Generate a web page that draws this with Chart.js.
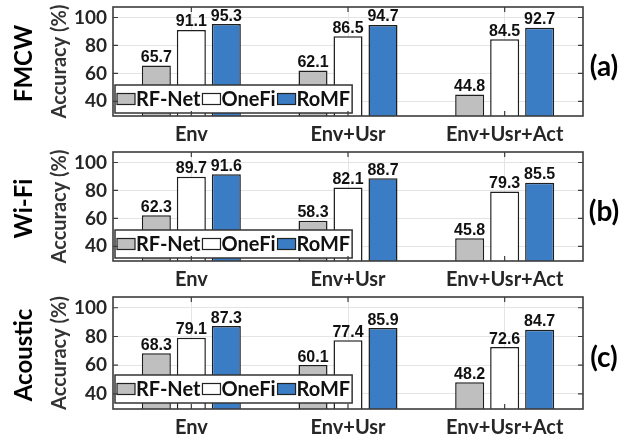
<!DOCTYPE html>
<html>
<head>
<meta charset="utf-8">
<script src="https://cdn.jsdelivr.net/npm/chart.js@4.4.0/dist/chart.umd.min.js"></script>
<style>
html, body { margin: 0; padding: 0; background: #fff; }
canvas { display: block; }
</style>
</head>
<body>
<canvas id="fmcwChart" width="636" height="145"></canvas>
<canvas id="wifiChart" width="636" height="145"></canvas>
<canvas id="acousticChart" width="636" height="148"></canvas>
<script>
// categories and methods
var categories = ['Env', 'Env+Usr', 'Env+Usr+Act'];
var methods = ['RF-Net', 'OneFi', 'RoMF'];
var yTicks = [40, 60, 80, 100];

// accuracy (%) per method, one array per sensing modality
var fmcw_rfnet = [65.7, 62.1, 44.8];
var fmcw_onefi = [91.1, 86.5, 84.5];
var fmcw_romf = [95.3, 94.7, 92.7];

var wifi_rfnet = [62.3, 58.3, 45.8];
var wifi_onefi = [89.7, 82.1, 79.3];
var wifi_romf = [91.6, 88.7, 85.5];

var acoustic_rfnet = [68.3, 60.1, 48.2];
var acoustic_onefi = [79.1, 77.4, 72.6];
var acoustic_romf = [87.3, 85.9, 84.7];

var colors = ['#bfbfbf', '#ffffff', '#3a7dc5'];

var LABEL_FONT = 'Lato';

// draws legend box, value labels, frame with inward ticks and side titles
var panelDeco = {
	id: 'panelDeco',
	afterDatasetsDraw: function(chart, args, opts) {
		var ctx = chart.ctx;
		var area = chart.chartArea;
		var xs = chart.scales.x;
		var ys = chart.scales.y;
		ctx.save();

		// legend inside the plot, bottom left
		var ds = chart.data.datasets;
		ctx.font = 'bold 20px ' + LABEL_FONT;
		var lx = area.left + 2, ly = area.top + 78, lh = 28;
		var sw = 18, sh = 11;
		var widths = ds.map(function(d) { return ctx.measureText(d.label).width; });
		var total = 2;
		for (var i = 0; i < ds.length; i++) total += sw + 1 + widths[i] + 2;
		ctx.fillStyle = '#fff';
		ctx.fillRect(lx, ly, total, lh);
		ctx.strokeStyle = '#333';
		ctx.lineWidth = 1.5;
		ctx.strokeRect(lx, ly, total, lh);
		var cx = lx + 2;
		var cy = ly + lh / 2;
		ctx.textBaseline = 'middle';
		ctx.textAlign = 'left';
		for (var i = 0; i < ds.length; i++) {
			ctx.fillStyle = ds[i].backgroundColor;
			ctx.fillRect(cx, cy - sh / 2, sw, sh);
			ctx.strokeStyle = '#222';
			ctx.lineWidth = 1.2;
			ctx.strokeRect(cx, cy - sh / 2, sw, sh);
			cx += sw + 1;
			ctx.fillStyle = '#111';
			ctx.fillText(ds[i].label, cx, cy + 1);
			cx += widths[i] + 2;
		}

		// value labels above the bars
		ctx.font = 'bold 16px "Liberation Sans"';
		ctx.textAlign = 'center';
		ctx.textBaseline = 'alphabetic';
		ctx.fillStyle = '#111';
		for (var i = 0; i < ds.length; i++) {
			var meta = chart.getDatasetMeta(i);
			meta.data.forEach(function(el, j) {
				ctx.fillText(ds[i].data[j].toFixed(1), el.x, el.y - 3.5);
			});
		}

		// frame
		ctx.strokeStyle = '#3c3c3c';
		ctx.lineWidth = 1.6;
		ctx.strokeRect(area.left, area.top, area.right - area.left, area.bottom - area.top);
		// inward ticks
		ctx.lineWidth = 1.2;
		ctx.beginPath();
		yTicks.forEach(function(v) {
			var y = ys.getPixelForValue(v);
			ctx.moveTo(area.left, y); ctx.lineTo(area.left + 5, y);
			ctx.moveTo(area.right, y); ctx.lineTo(area.right - 5, y);
		});
		categories.forEach(function(c, k) {
			var x = xs.getPixelForTick(k);
			ctx.moveTo(x, area.top); ctx.lineTo(x, area.top + 5);
			ctx.moveTo(x, area.bottom); ctx.lineTo(x, area.bottom - 5);
		});
		ctx.stroke();

		var midY = (area.top + area.bottom) / 2;
		// y axis title
		ctx.save();
		ctx.translate(60, midY);
		ctx.rotate(-Math.PI / 2);
		ctx.font = 'bold 20px ' + LABEL_FONT;
		ctx.fillStyle = '#333';
		ctx.textAlign = 'center';
		ctx.textBaseline = 'middle';
		ctx.fillText('Accuracy (%)', 0, 0);
		ctx.restore();

		// modality name
		ctx.save();
		ctx.translate(24, midY + 2);
		ctx.rotate(-Math.PI / 2);
		ctx.font = 'bold 24px ' + LABEL_FONT;
		ctx.fillStyle = '#000';
		ctx.textAlign = 'center';
		ctx.textBaseline = 'middle';
		ctx.fillText(opts.name, 0, 0);
		ctx.restore();

		// panel tag
		ctx.font = 'bold 28px ' + LABEL_FONT;
		ctx.fillStyle = '#000';
		ctx.textAlign = 'center';
		ctx.textBaseline = 'middle';
		ctx.fillText(opts.tag, 604, midY + 5);

		ctx.restore();
	}
};

function makeChart(id, rfnet, onefi, romf, name, tag) {
	var series = [rfnet, onefi, romf];
	return new Chart(document.getElementById(id), {
		type: 'bar',
		data: {
			labels: categories,
			datasets: methods.map(function(m, i) {
				return {
					label: m,
					data: series[i],
					backgroundColor: colors[i],
					borderColor: '#1e1e1e',
					borderWidth: 1.5,
					borderSkipped: false,
					categoryPercentage: 0.67,
					barPercentage: 0.83
				};
			})
		},
		options: {
			responsive: false,
			animation: false,
			events: [],
			layout: { padding: { left: 0, right: 53, top: 7, bottom: 0 } },
			plugins: {
				legend: { display: false },
				tooltip: { enabled: false },
				panelDeco: { name: name, tag: tag }
			},
			scales: {
				x: {
					grid: { offset: false, drawTicks: false, color: '#e4e4e4', lineWidth: 1 },
					border: { display: false },
					ticks: {
						padding: 7,
						color: '#262626',
						font: { family: LABEL_FONT, weight: 'bold', size: 20 }
					},
					afterFit: function(s) {
						s.height = 29;
						s.paddingLeft = 0; s.paddingRight = 0;
					}
				},
				y: {
					min: 29.5,
					max: 107.5,
					afterBuildTicks: function(s) {
						s.ticks = yTicks.map(function(v) { return { value: v }; });
					},
					grid: { drawTicks: false, color: '#e4e4e4', lineWidth: 1 },
					border: { display: false },
					ticks: {
						padding: 6,
						color: '#262626',
						font: { family: LABEL_FONT, weight: 'bold', size: 19 }
					},
					afterFit: function(s) {
						s.width = 113;
						s.paddingTop = 0; s.paddingBottom = 0;
					}
				}
			}
		},
		plugins: [panelDeco]
	});
}

makeChart('fmcwChart', fmcw_rfnet, fmcw_onefi, fmcw_romf, 'FMCW', '(a)');
makeChart('wifiChart', wifi_rfnet, wifi_onefi, wifi_romf, 'Wi-Fi', '(b)');
makeChart('acousticChart', acoustic_rfnet, acoustic_onefi, acoustic_romf, 'Acoustic', '(c)');
</script>
</body>
</html>
